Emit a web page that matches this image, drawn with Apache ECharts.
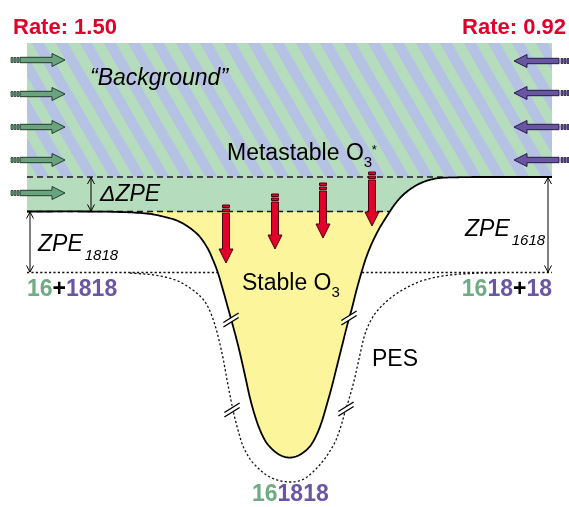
<!DOCTYPE html>
<html><head><meta charset="utf-8">
<script src="https://cdn.jsdelivr.net/npm/echarts@6/dist/echarts.min.js"></script>
<style>html,body{margin:0;padding:0;background:#fff;}#chart{width:569px;height:507px;}</style>
</head><body><div id="chart"></div>
<script>
// ---------- values (diagram units) ----------
const boxX = [27, 552];                 // hatched "background" box left/right
const boxY = [43, 177];                 // box top, metastable level
const levelY = [177, 211.5, 272.5];     // metastable O3*, stable threshold, asymptote
const solidCurve = [[27,211.5],[90,211.5],[120,212],[147,213.5],[163,216.5],[178,221],[190,228],[200,237],[208,249],[213,260],[218,273],[223,290],[228,308],[233,326],[238,345],[242,362],[246,380],[250,398],[255,416],[260,430],[266,442],[273,450],[280,455],[288,457.5],[296,456.5],[304,452],[311,445],[317,434],[322,421],[327,404],[332,386],[337,366],[342,346],[347,326],[352,308],[356,292],[361,274],[366,258],[372,243],[379,229],[387,216],[395,204],[403,195],[412,188],[421,183],[431,179.5],[442,177.8],[460,177.2],[480,177],[552,177]];
const pesCurve = [[130,273],[150,274.5],[165,277],[178,281],[190,288],[200,296],[207,305],[213,319],[218,336],[223,358],[228,385],[233,410],[238,430],[243,446],[250,459],[257,467],[265,474],[273,478.5],[281,481],[290,482],[299,481],[307,477],[315,470],[323,461],[330,451],[336,440],[341,426],[345,412],[349,399],[353,385],[357,368],[361,350],[365,334],[371,320],[378,310],[387,301],[396,294],[406,288],[420,281.5],[437,277],[455,274.5],[480,273],[500,272.7]];
const pesLeft = [[27,272.5],[218,272.5]];
const pesRight = [[362,272.5],[552,272.5]];
const leftArrowY = [60,94,127,160,193];
const rightArrowY = [61,93,127,160];
const redArrowX = [226,275,323,372];
const redArrowTop = [205,194,183,172];
const redArrowTip = [263,249,238,226];
const breakX = [231,349,232,346];
const breakY = [320,318,410,409];
const spanX = [91,30,548];
const spanTop = [177,211.5,177];
const spanBottom = [211.5,272.5,272.5];

// ---------- styles ----------
const FONT = '"Liberation Sans", Arial, Helvetica, sans-serif';
const C = {green:'#b4dcbd', blue:'#b6c2e3', yellow:'#fdf59c', red:'#e1002c', redDark:'#4a0010',
  gArrow:'#6aa47e', gDark:'#243b2d', pArrow:'#6a55a3', pDark:'#241c44', gText:'#6fac84', pText:'#6b56a4'};

function smoothPts(pts, n){
  const out=[];
  for(let i=0;i<pts.length-1;i++){
    const p0=pts[Math.max(i-1,0)], p1=pts[i], p2=pts[i+1], p3=pts[Math.min(i+2,pts.length-1)];
    for(let j=0;j<n;j++){
      const t=j/n, t2=t*t, t3=t2*t;
      out.push([0,1].map(k=>0.5*((2*p1[k])+(-p0[k]+p2[k])*t+(2*p0[k]-5*p1[k]+4*p2[k]-p3[k])*t2+(-p0[k]+3*p1[k]-3*p2[k]+p3[k])*t3)));
    }
  }
  out.push(pts[pts.length-1].slice());
  return out;
}
function clipX(poly, xmin, xmax){
  function clip(pts, inside, inter){
    const out=[];
    for(let i=0;i<pts.length;i++){
      const a=pts[i], b=pts[(i+1)%pts.length];
      const ia=inside(a), ib=inside(b);
      if(ia) out.push(a);
      if(ia!==ib) out.push(inter(a,b));
    }
    return out;
  }
  const interAt = x => (a,b)=>{const t=(x-a[0])/(b[0]-a[0]); return [x, a[1]+t*(b[1]-a[1])];};
  let p = clip(poly, q=>q[0]>=xmin, interAt(xmin));
  if(p.length) p = clip(p, q=>q[0]<=xmax, interAt(xmax));
  return p;
}
function cs(id, z, fn){
  return {type:'custom', id:id, z:z, silent:true, animation:false, clip:false,
    coordinateSystem:'cartesian2d', data:[[0,0]], renderItem:(params, api)=>({type:'group', children:fn(api)})};
}
const P = (api,p)=>api.coord(p);

const series = [];
// hatched background
series.push(cs('hatch', 1, api=>{
  const ch=[];
  const a=P(api,[boxX[0],boxY[0]]), b=P(api,[boxX[1],boxY[1]]);
  ch.push({type:'rect', shape:{x:a[0],y:a[1],width:b[0]-a[0],height:b[1]-a[1]}, style:{fill:C.green}});
  const period=24, half=12, slope=0.58, off=7.7, H=boxY[1]-boxY[0];
  for(let k=-6;k<30;k++){
    const x0=off+period*k;
    let poly=[[x0,boxY[0]],[x0+half,boxY[0]],[x0+half+slope*H,boxY[1]],[x0+slope*H,boxY[1]]];
    poly=clipX(poly, boxX[0], boxX[1]);
    if(poly.length>=3) ch.push({type:'polygon', shape:{points:poly.map(p=>P(api,p))}, style:{fill:C.blue}});
  }
  return ch;
}));
// green band + yellow well
series.push(cs('fills', 2, api=>{
  const sp = smoothPts(solidCurve.map(p=>P(api,p)), 10);
  const band = P(api,[0,levelY[1]])[1];
  const top = P(api,[0,levelY[0]])[1];
  let last=-1;
  const yellow=[];
  sp.forEach((p,i)=>{ if(p[1]>=band-0.05){ yellow.push(p); last=i; } });
  const right = sp.slice(last);
  const x0 = P(api,[boxX[0],0])[0];
  const green = [[x0,band]].concat(right).concat([[x0,top]]);
  return [
    {type:'polygon', shape:{points:green}, style:{fill:C.green}},
    {type:'polygon', shape:{points:yellow}, style:{fill:C.yellow}}
  ];
}));
// dashed levels
series.push(cs('dashes', 3, api=>{
  const a1=P(api,[boxX[0],levelY[0]]), a2=P(api,[445,levelY[0]]);
  const b1=P(api,[boxX[0],levelY[1]]), b2=P(api,[389,levelY[1]]);
  const st={stroke:'#1a1a1a', lineWidth:1.3, lineDash:[6,4]};
  return [
    {type:'line', shape:{x1:a1[0],y1:a1[1],x2:a2[0],y2:a2[1]}, style:st},
    {type:'line', shape:{x1:b1[0],y1:b1[1],x2:b2[0],y2:b2[1]}, style:st}
  ];
}));
// curves
series.push(cs('curves', 4, api=>{
  const dot={stroke:'#111', lineWidth:1.3, lineDash:[2.2,2.2], fill:null};
  return [
    {type:'polyline', shape:{points:smoothPts(pesCurve.map(p=>P(api,p)),10)}, style:dot},
    {type:'polyline', shape:{points:pesLeft.map(p=>P(api,p))}, style:dot},
    {type:'polyline', shape:{points:pesRight.map(p=>P(api,p))}, style:dot},
    {type:'polyline', shape:{points:smoothPts(solidCurve.map(p=>P(api,p)),10)}, style:{stroke:'#000', lineWidth:1.8, fill:null}}
  ];
}));
// break marks
series.push(cs('breaks', 5, api=>{
  const ch=[];
  const ang=32*Math.PI/180, L=18, sep=4.5;
  const ux=Math.cos(ang)*L/2, uy=-Math.sin(ang)*L/2;
  breakX.forEach((x,i)=>{
    const c=P(api,[x,breakY[i]]);
    const c1=[c[0],c[1]-sep/2], c2=[c[0],c[1]+sep/2];
    ch.push({type:'polygon', shape:{points:[[c1[0]-ux*0.8,c1[1]-uy*0.8],[c1[0]+ux*0.8,c1[1]+uy*0.8],[c2[0]+ux*0.8,c2[1]+uy*0.8],[c2[0]-ux*0.8,c2[1]-uy*0.8]]}, style:{fill:'#fff'}});
    [c1,c2].forEach(cc=>ch.push({type:'line', shape:{x1:cc[0]-ux,y1:cc[1]-uy,x2:cc[0]+ux,y2:cc[1]+uy}, style:{stroke:'#000', lineWidth:1.4}}));
  });
  return ch;
}));
// span arrows (double headed)
series.push(cs('spans', 6, api=>{
  const ch=[];
  spanX.forEach((x,i)=>{
    const a=P(api,[x,spanTop[i]]), b=P(api,[x,spanBottom[i]]);
    const st={stroke:'#000', lineWidth:1, fill:null};
    ch.push({type:'line', shape:{x1:a[0],y1:a[1]+0.5,x2:b[0],y2:b[1]-0.5}, style:st});
    ch.push({type:'polyline', shape:{points:[[a[0]-3.5,a[1]+7],[a[0],a[1]+0.5],[a[0]+3.5,a[1]+7]]}, style:st});
    ch.push({type:'polyline', shape:{points:[[b[0]-3.5,b[1]-7],[b[0],b[1]-0.5],[b[0]+3.5,b[1]-7]]}, style:st});
  });
  return ch;
}));
// side arrows
series.push(cs('sideArrows', 7, api=>{
  const ch=[];
  leftArrowY.forEach(y=>{
    const c=P(api,[0,y])[1]; const X=x=>P(api,[x,0])[0];
    [11,14,17].forEach(x=>ch.push({type:'rect', shape:{x:X(x),y:c-2.5,width:2,height:5}, style:{fill:C.gArrow, stroke:C.gDark, lineWidth:0.8}}));
    ch.push({type:'polygon', shape:{points:[[X(20),c-2.7],[X(52),c-2.7],[X(52),c-6.5],[X(65),c],[X(52),c+6.5],[X(52),c+2.7],[X(20),c+2.7]]}, style:{fill:C.gArrow, stroke:C.gDark, lineWidth:1}});
  });
  rightArrowY.forEach(y=>{
    const c=P(api,[0,y])[1]; const X=x=>P(api,[x,0])[0];
    [561,564,567].forEach(x=>ch.push({type:'rect', shape:{x:X(x),y:c-2.5,width:2,height:5}, style:{fill:C.pArrow, stroke:C.pDark, lineWidth:0.8}}));
    ch.push({type:'polygon', shape:{points:[[X(514),c],[X(527),c-6.5],[X(527),c-2.7],[X(559),c-2.7],[X(559),c+2.7],[X(527),c+2.7],[X(527),c+6.5]]}, style:{fill:C.pArrow, stroke:C.pDark, lineWidth:1}});
  });
  return ch;
}));
// red decay arrows
series.push(cs('redArrows', 8, api=>{
  const ch=[];
  redArrowX.forEach((x,i)=>{
    const t=P(api,[x,redArrowTop[i]]), e=P(api,[x,redArrowTip[i]]);
    const cx=t[0], top=t[1], tip=e[1];
    const st={fill:C.red, stroke:C.redDark, lineWidth:1};
    ch.push({type:'rect', shape:{x:cx-3.5,y:top,width:7,height:2.5}, style:st});
    ch.push({type:'rect', shape:{x:cx-3.5,y:top+4,width:7,height:2.5}, style:st});
    ch.push({type:'polygon', shape:{points:[[cx-3.5,top+8],[cx+3.5,top+8],[cx+3.5,tip-14],[cx+7,tip-14],[cx,tip],[cx-7,tip-14],[cx-3.5,tip-14]]}, style:st});
  });
  return ch;
}));

// ---------- text ----------
const mctx = document.createElement('canvas').getContext('2d');
function tw(text, font){ mctx.font=font; return mctx.measureText(text).width; }
const graphics=[];
function txt(x, base, text, size, opt){
  opt=opt||{};
  const font=(opt.style||'normal')+' '+(opt.weight||'normal')+' '+size+'px '+FONT;
  graphics.push({type:'text', silent:true, z:100, style:{x:x, y:base-0.35*size, text:text, font:font, fill:opt.color||'#000',
    align:opt.align||'left', verticalAlign:'middle', textAlign:opt.align||'left', textVerticalAlign:'middle'}});
  return tw(text, font);
}
function parts(x, base, list, size, opt){
  const font=(opt.style||'normal')+' '+(opt.weight||'normal')+' '+size+'px '+FONT;
  let total=0; list.forEach(p=>total+=tw(p[0],font));
  let cx = opt.align==='right' ? x-total : x;
  list.forEach(p=>{ txt(cx, base, p[0], size, {weight:opt.weight, style:opt.style, color:p[1]}); cx+=tw(p[0],font); });
}
txt(13, 36, 'Rate: 1.50', 22, {weight:'bold', color:C.red});
txt(566, 36, 'Rate: 0.92', 22, {weight:'bold', color:C.red, align:'right'});
txt(90, 87, '\u201cBackground\u201d', 23, {style:'italic'});
let w = txt(227, 162, 'Metastable O', 23);
txt(227+w, 168, '3', 15);
txt(227+w+8, 155, '*', 13);
txt(100, 203, '\u0394ZPE', 23, {style:'italic'});
w = txt(38, 253, 'ZPE', 23, {style:'italic'});
txt(38+w+2, 261, '1818', 15, {style:'italic'});
w = txt(465, 238, 'ZPE', 23, {style:'italic'});
txt(465+w+2, 246, '1618', 15, {style:'italic'});
w = txt(242, 292, 'Stable O', 23);
txt(242+w, 298, '3', 15);
parts(27, 298, [['16',C.gText],['+','#000'],['1818',C.pText]], 23, {weight:'bold'});
parts(552, 298, [['16',C.gText],['18',C.pText],['+','#000'],['18',C.pText]], 23, {weight:'bold', align:'right'});
txt(372, 368, 'PES', 23);
parts(252, 503, [['16',C.gText],['1818',C.pText]], 23, {weight:'bold'});

const chart = echarts.init(document.getElementById('chart'), null, {renderer:'canvas'});
chart.setOption({
  animation:false,
  grid:{left:0,right:0,top:0,bottom:0},
  xAxis:{type:'value', min:0, max:569, show:false},
  yAxis:{type:'value', min:0, max:507, inverse:true, show:false},
  series:series,
  graphic:graphics
});
</script>
</body></html>
